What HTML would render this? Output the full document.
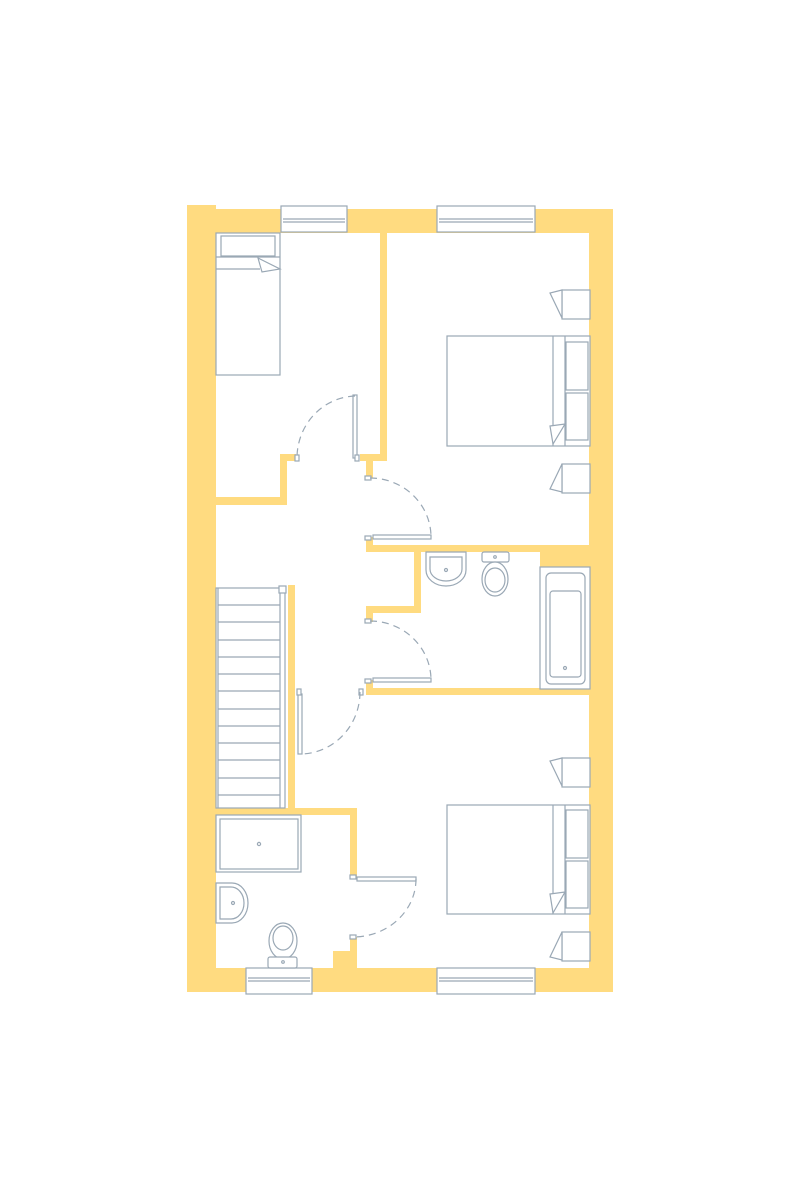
<!DOCTYPE html>
<html><head><meta charset="utf-8"><style>html,body{margin:0;padding:0;background:#fff;width:800px;height:1200px;overflow:hidden}</style></head>
<body>
<svg width="800" height="1200" viewBox="0 0 800 1200" xmlns="http://www.w3.org/2000/svg">
<g fill="#FFDB80">
<!-- outer walls -->
<rect x="187" y="205" width="29" height="787"/>
<rect x="187" y="209" width="426" height="24"/>
<rect x="589" y="209" width="24" height="783"/>
<rect x="187" y="968" width="426" height="24"/>
<!-- bedroom divider -->
<rect x="380" y="233" width="7" height="228"/>
<rect x="360" y="454" width="27" height="7"/>
<rect x="366" y="454" width="7" height="24"/>
<!-- small bedroom bottom -->
<rect x="216" y="497" width="71" height="8"/>
<rect x="280" y="454" width="7" height="51"/>
<rect x="280" y="454" width="16" height="7"/>
<!-- bathroom -->
<rect x="366" y="545" width="223" height="7"/>
<rect x="366" y="537" width="7" height="15"/>
<rect x="414" y="545" width="7" height="68"/>
<rect x="366" y="606" width="55" height="7"/>
<rect x="366" y="606" width="7" height="16"/>
<rect x="540" y="545" width="49" height="22"/>
<rect x="366" y="688" width="223" height="7"/>
<rect x="366" y="680" width="7" height="15"/>
<!-- stair / shower room -->
<rect x="288" y="585" width="7" height="230"/>
<rect x="216" y="808" width="141" height="7"/>
<rect x="350" y="808" width="7" height="70"/>
<rect x="350" y="937" width="7" height="31"/>
<rect x="333" y="951" width="24" height="17"/>
</g>
<g fill="#fff" stroke="#9aa8b5" stroke-width="1.2">
<!-- windows -->
<rect x="281" y="206" width="66" height="26"/><line x1="283" y1="219" x2="345" y2="219"/><line x1="283" y1="222" x2="345" y2="222"/>
<rect x="437" y="206" width="98" height="26"/><line x1="439" y1="219" x2="533" y2="219"/><line x1="439" y1="222" x2="533" y2="222"/>
<rect x="246" y="968" width="66" height="26"/><line x1="248" y1="978" x2="310" y2="978"/><line x1="248" y1="981" x2="310" y2="981"/>
<rect x="437" y="968" width="98" height="26"/><line x1="439" y1="978" x2="533" y2="978"/><line x1="439" y1="981" x2="533" y2="981"/>
<!-- single bed -->
<rect x="216" y="233" width="64" height="142"/>
<rect x="221" y="236" width="54" height="20"/>
<line x1="216" y1="257" x2="280" y2="257"/><line x1="216" y1="269" x2="260" y2="269"/>
<polygon points="258,258 280,269 262,272"/>
<!-- double bed 1 -->
<rect x="447" y="336" width="143" height="110"/>
<line x1="553" y1="336" x2="553" y2="446"/><line x1="565" y1="336" x2="565" y2="446"/>
<rect x="566" y="342" width="22" height="48"/><rect x="566" y="393" width="22" height="47"/>
<polygon points="550,426 565,424 553,444"/>
<rect x="562" y="290" width="28" height="29"/><polygon points="562,290 550,293 562,318"/>
<rect x="562" y="464" width="28" height="29"/><polygon points="562,464 550,489 562,492"/>
<!-- double bed 2 -->
<rect x="447" y="805" width="143" height="109"/>
<line x1="553" y1="805" x2="553" y2="914"/><line x1="565" y1="805" x2="565" y2="914"/>
<rect x="566" y="810" width="22" height="48"/><rect x="566" y="861" width="22" height="47"/>
<polygon points="550,894 565,892 553,913"/>
<rect x="562" y="758" width="28" height="29"/><polygon points="562,758 550,761 562,786"/>
<rect x="562" y="932" width="28" height="29"/><polygon points="562,932 550,957 562,960"/>
<!-- basin 1 -->
<path d="M426,552 H466 V570 A20,16 0 0 1 426,570 Z"/>
<path d="M430,557 H462 V569 A16,12 0 0 1 430,569 Z"/>
<circle cx="446" cy="570" r="1.5"/>
<!-- toilet 1 -->
<rect x="482" y="552" width="27" height="10" rx="2"/>
<ellipse cx="495" cy="579" rx="13" ry="17"/><ellipse cx="495" cy="580" rx="10" ry="12"/>
<circle cx="495" cy="557" r="1.3"/>
<!-- bath -->
<rect x="540" y="567" width="50" height="122"/>
<rect x="546" y="573" width="39" height="111" rx="5"/>
<rect x="550" y="591" width="31" height="86" rx="3"/>
<circle cx="565" cy="668" r="1.5"/>
<!-- stairs -->
<rect x="216" y="588" width="69" height="220"/>
<g>
<line x1="218" y1="605" x2="280" y2="605"/><line x1="218" y1="622" x2="280" y2="622"/><line x1="218" y1="640" x2="280" y2="640"/><line x1="218" y1="657" x2="280" y2="657"/><line x1="218" y1="674" x2="280" y2="674"/><line x1="218" y1="691" x2="280" y2="691"/><line x1="218" y1="709" x2="280" y2="709"/><line x1="218" y1="726" x2="280" y2="726"/><line x1="218" y1="743" x2="280" y2="743"/><line x1="218" y1="760" x2="280" y2="760"/><line x1="218" y1="778" x2="280" y2="778"/><line x1="218" y1="795" x2="280" y2="795"/>
</g>
<line x1="218" y1="588" x2="218" y2="808"/>
<line x1="280" y1="590" x2="280" y2="808"/>
<rect x="279" y="586" width="7" height="7"/>
<!-- shower -->
<rect x="216" y="815" width="85" height="57"/>
<rect x="220" y="819" width="78" height="50"/>
<circle cx="259" cy="844" r="1.6"/>
<!-- basin 2 -->
<path d="M216,883 H232 A16,20 0 0 1 232,923 H216 Z"/>
<path d="M220,887 H231 A13,16 0 0 1 231,919 H220 Z"/>
<circle cx="233" cy="903" r="1.5"/>
<!-- toilet 2 -->
<ellipse cx="283" cy="941" rx="14" ry="18"/><ellipse cx="283" cy="938" rx="10" ry="12"/>
<rect x="268" y="957" width="29" height="11" rx="2"/>
<circle cx="283" cy="962" r="1.3"/>
</g>
<!-- doors -->
<g fill="#fff" stroke="#9aa8b5" stroke-width="1.2">
<rect x="353" y="395" width="4" height="63"/>
<rect x="355" y="455" width="4" height="6"/><rect x="295" y="455" width="4" height="6"/>
<rect x="373" y="535" width="58" height="4"/><rect x="365" y="536" width="6" height="4"/><rect x="365" y="476" width="6" height="4"/>
<rect x="373" y="678" width="58" height="4"/><rect x="365" y="679" width="6" height="4"/><rect x="365" y="619" width="6" height="4"/>
<rect x="298" y="694" width="4" height="60"/><rect x="297" y="689" width="4" height="6"/><rect x="359" y="689" width="4" height="6"/>
<rect x="357" y="877" width="59" height="4"/><rect x="350" y="875" width="6" height="4"/><rect x="350" y="935" width="6" height="4"/>
</g>
<g fill="none" stroke="#9aa8b5" stroke-width="1.2" stroke-dasharray="7,5">
<path d="M355,396 A60,62 0 0 0 297,458"/>
<path d="M370,478 A61,59 0 0 1 431,537"/>
<path d="M370,621 A61,59 0 0 1 431,680"/>
<path d="M360,692 A60,62 0 0 1 300,754"/>
<path d="M416,879 A63,58 0 0 1 353,937"/>
</g>
</svg>
</body></html>
